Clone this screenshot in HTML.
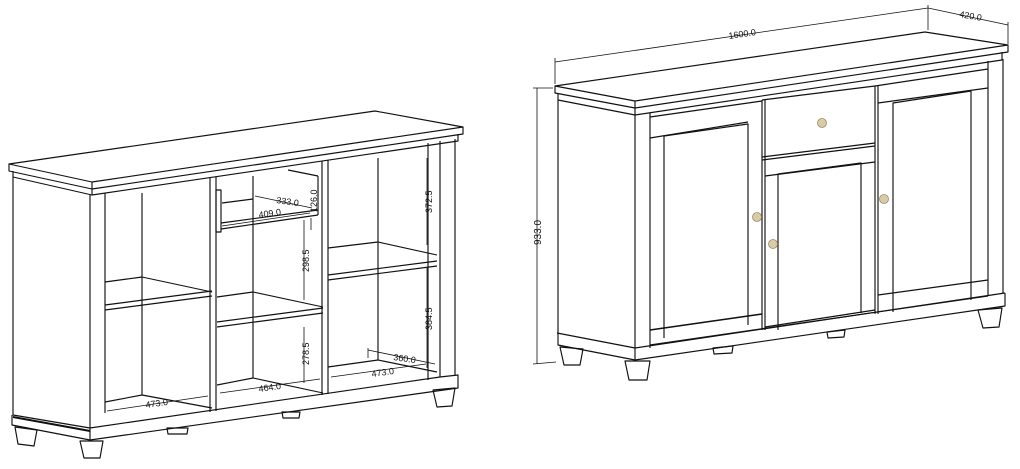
<!DOCTYPE html>
<html><head><meta charset="utf-8"><style>
html,body{margin:0;padding:0;background:#fff;}
svg{display:block}
text{font-family:"Liberation Sans",sans-serif;font-size:9px;fill:#111}
</style></head><body>
<svg width="1020" height="469" viewBox="0 0 1020 469" xmlns="http://www.w3.org/2000/svg">
<g fill="none" stroke="#111" stroke-width="1.15" stroke-linejoin="round">
<polygon points="9,164 375,111 463,127 92,182" fill="#fff"/>
<polyline points="9,164 9,171 92,189 463,134 463,127"/>
<line x1="92" y1="182" x2="92" y2="189"/>
<polyline points="13,171 13,177 92,195 458,141 458,134"/>
<line x1="92" y1="189" x2="92" y2="195"/>
<polyline points="13,177 13,415 90,428"/>
<line x1="90" y1="195" x2="90" y2="440"/>
<line x1="105" y1="193" x2="105" y2="413"/>
<polyline points="12,415 12,425 90,440 458,388 458,375 440,377"/>
<line x1="90" y1="428" x2="440" y2="377"/>
<line x1="13" y1="417" x2="90" y2="431" stroke-width="2"/>
<line x1="428" y1="143" x2="428" y2="380"/>
<line x1="440" y1="141" x2="440" y2="377"/>
<line x1="455" y1="139" x2="455" y2="375"/>
<line x1="210" y1="178" x2="210" y2="412"/>
<line x1="216" y1="177" x2="216" y2="411"/>
<line x1="322" y1="161" x2="322" y2="395"/>
<line x1="328" y1="160" x2="328" y2="394"/>
<line x1="142" y1="193" x2="142" y2="395"/>
<line x1="253" y1="176" x2="253" y2="378"/>
<line x1="378" y1="158" x2="378" y2="360"/>
<line x1="105" y1="282" x2="142" y2="277"/>
<line x1="142" y1="277" x2="212" y2="292"/>
<line x1="105" y1="305" x2="212" y2="291"/>
<line x1="105" y1="310" x2="212" y2="296"/>
<line x1="217" y1="297" x2="253" y2="292"/>
<line x1="253" y1="292" x2="323" y2="307"/>
<line x1="217" y1="322" x2="323" y2="308"/>
<line x1="217" y1="327" x2="323" y2="313"/>
<line x1="328" y1="248" x2="378" y2="242"/>
<line x1="378" y1="242" x2="437" y2="255"/>
<line x1="328" y1="275" x2="437" y2="261"/>
<line x1="328" y1="280" x2="437" y2="266"/>
<line x1="105" y1="402" x2="142" y2="395"/>
<line x1="142" y1="395" x2="212" y2="408"/>
<line x1="217" y1="385" x2="253" y2="378"/>
<line x1="253" y1="378" x2="323" y2="393"/>
<line x1="328" y1="367" x2="378" y2="360"/>
<line x1="378" y1="360" x2="437" y2="372"/>
<rect x="216" y="190" width="5" height="42"/>
<line x1="221" y1="223" x2="318" y2="210"/>
<line x1="221" y1="229" x2="318" y2="215"/>
<line x1="222" y1="203" x2="253" y2="199"/>
<line x1="288" y1="170" x2="318" y2="176"/>
<line x1="318" y1="176" x2="318" y2="215"/>
<polygon points="15,427 37,430 34,446 18,444"/>
<polygon points="80,441 103,441 100,458 84,458"/>
<polygon points="167,428 188,428 187,434 168,434"/>
<polygon points="282,412 300,412 299,418 283,418"/>
<polygon points="433,390 455,388 452,406 437,407"/>
<g stroke-width="0.8">
<line x1="107" y1="411" x2="208" y2="396"/>
<line x1="220" y1="393" x2="320" y2="379"/>
<line x1="331" y1="377" x2="426" y2="364"/>
<line x1="368" y1="350" x2="435" y2="364"/>
<polyline points="368,348 368,358"/>
<line x1="255" y1="196" x2="312" y2="208"/>
<line x1="222" y1="226" x2="310" y2="213"/>
<line x1="304" y1="220" x2="304" y2="300"/>
<line x1="304" y1="327" x2="304" y2="383"/>
<line x1="427" y1="158" x2="427" y2="245"/>
<line x1="427" y1="268" x2="427" y2="368"/>
<line x1="311" y1="218" x2="311" y2="230"/>
</g>
</g>
<text transform="translate(146,408) rotate(-8)">473.0</text>
<text transform="translate(259,392) rotate(-8)">464.0</text>
<text transform="translate(372,377) rotate(-8)">473.0</text>
<text transform="translate(393,360) rotate(8)">360.0</text>
<text transform="translate(276,203) rotate(8)">333.0</text>
<text transform="translate(259,218) rotate(-8)">409.0</text>
<text transform="translate(317,212) rotate(-90)">126.0</text>
<text transform="translate(309,272) rotate(-90)">298.5</text>
<text transform="translate(309,365) rotate(-90)">278.5</text>
<text transform="translate(432,213) rotate(-90)">372.5</text>
<text transform="translate(432,330) rotate(-90)">384.5</text>

<g fill="none" stroke="#111" stroke-width="1.15" stroke-linejoin="round">
<polygon points="555,86 925,32 1008,45 635,101" fill="#fff"/>
<polyline points="555,86 555,93 635,108 1008,52 1008,45"/>
<line x1="635" y1="101" x2="635" y2="108"/>
<polyline points="558,93 558,100 635,115 1002,60 1002,52"/>
<line x1="635" y1="108" x2="635" y2="115"/>
<polyline points="558,100 558,345 635,360"/>
<line x1="635" y1="115" x2="635" y2="360"/>
<line x1="557" y1="333" x2="635" y2="348"/>
<line x1="650" y1="113" x2="650" y2="348"/>
<line x1="988" y1="61" x2="988" y2="295"/>
<line x1="1003" y1="59" x2="1003" y2="293"/>
<line x1="635" y1="348" x2="1005" y2="293"/>
<polyline points="635,360 1005,306 1005,293"/>
<line x1="650" y1="117" x2="762" y2="101"/>
<line x1="762" y1="100" x2="875" y2="86"/>
<line x1="875" y1="86" x2="988" y2="69"/>
<line x1="650" y1="345" x2="988" y2="296"/>
<line x1="762" y1="100" x2="762" y2="330"/>
<line x1="765" y1="100" x2="765" y2="330"/>
<line x1="875" y1="86" x2="875" y2="314"/>
<line x1="878" y1="86" x2="878" y2="314"/>
<line x1="762" y1="157" x2="875" y2="143"/>
<line x1="762" y1="160" x2="875" y2="146"/>
<line x1="765" y1="176" x2="875" y2="162"/>
<polyline points="664,338 664,136 748,124 748,325"/>
<line x1="650" y1="138" x2="748" y2="122"/>
<line x1="650" y1="330" x2="762" y2="314" stroke-width="1.6"/>
<polyline points="778,330 778,174 861,163 861,313"/>
<line x1="765" y1="327" x2="875" y2="310"/>
<polyline points="893,312 893,103 971,91 971,300"/>
<line x1="878" y1="103" x2="988" y2="88"/>
<line x1="878" y1="295" x2="988" y2="280"/>
<polygon points="560,347 583,349 580,365 564,365"/>
<polygon points="625,361 650,361 647,380 629,380"/>
<polygon points="713,348 733,346 732,353 714,354"/>
<polygon points="827,332 845,330 844,337 828,338"/>
<polygon points="978,310 1002,308 999,327 983,328"/>
<g stroke-width="0.8">
<line x1="555" y1="62" x2="928" y2="8"/>
<line x1="555" y1="58" x2="555" y2="84"/>
<line x1="928" y1="5" x2="928" y2="30"/>
<line x1="928" y1="8" x2="1008" y2="25"/>
<line x1="1008" y1="22" x2="1008" y2="44"/>
<line x1="537" y1="88" x2="537" y2="364"/>
<line x1="533" y1="88" x2="553" y2="88"/>
<line x1="533" y1="364" x2="556" y2="362"/>
</g>
</g>
<g fill="#d9cba6" stroke="#9a8c6a" stroke-width="0.8">
<circle cx="822" cy="123" r="4.5"/>
<circle cx="757" cy="217" r="4.5"/>
<circle cx="773" cy="244" r="4.5"/>
<circle cx="884" cy="199" r="4.5"/>
</g>
<text transform="translate(729,39) rotate(-8.3)">1600.0</text>
<text transform="translate(959,17) rotate(10)">420.0</text>
<text transform="translate(541,245) rotate(-90)" style="font-size:10px">933.0</text>
</svg>
</body></html>
